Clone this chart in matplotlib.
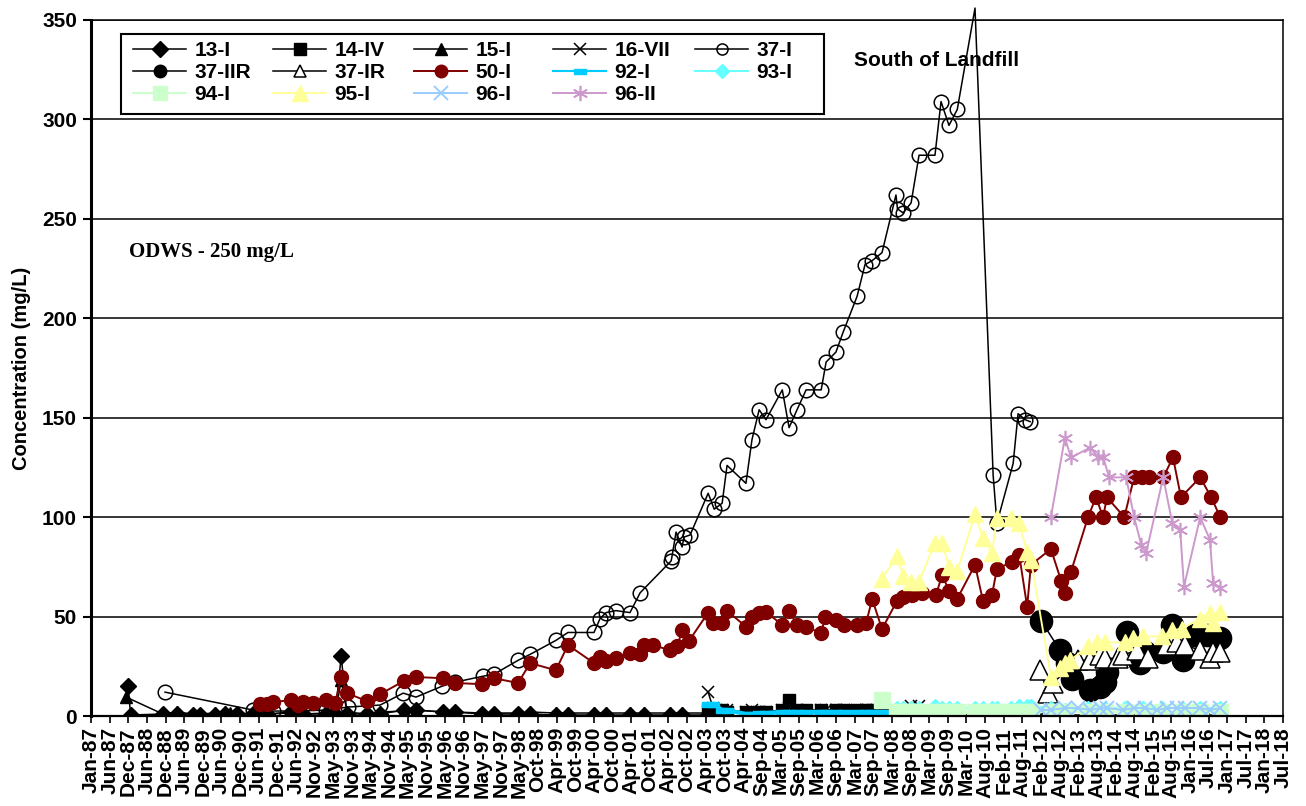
import matplotlib
matplotlib.use('Agg')
import matplotlib.pyplot as plt
from matplotlib.lines import Line2D
from matplotlib.patches import Rectangle
import pandas as pd

plt.rcParams['font.family'] = ['Liberation Sans', 'DejaVu Sans']
plt.rcParams['font.weight'] = 'bold'

# sample dates as decimal years, values in mg/L
t_13I = [1987.98, 1988.05, 1988.90, 1989.28, 1989.70, 1989.87, 1990.28, 1990.54, 1990.86, 1991.29,
         1991.66, 1992.29, 1992.61, 1993.22, 1993.46, 1993.62, 1993.77, 1994.30, 1994.65, 1995.28,
         1995.60, 1996.31, 1996.63, 1997.35, 1997.66, 1998.30, 1998.62, 1999.30, 1999.62, 2000.31,
         2000.63, 2001.26, 2001.63, 2002.32, 2002.64, 2003.33]
v_13I = [15, 0.5, 1, 1, 0.5, 0.5, 0.5, 1, 1, 1,
         1, 2, 1, 1, 1, 30, 1, 1, 1, 3,
         3, 2, 2, 1, 1, 1, 1, 0.5, 0.5, 0.5,
         0.5, 0.5, 0.5, 0.5, 0.5, 0.5]

t_14IV = [2003.33, 2003.46, 2003.70, 2003.83, 2004.33, 2004.49, 2004.68, 2004.86, 2005.29, 2005.47,
          2005.68, 2005.92, 2006.32, 2006.71, 2006.93, 2007.27, 2007.51, 2007.67, 2007.93]
v_14IV = [3, 3, 3, 2, 2, 1.5, 2, 2, 3, 8,
          3, 3, 3, 3, 3, 3, 3, 3, 3]

t_15I = [1987.93, 1988.90, 1989.28, 1989.70, 1989.87, 1990.28, 1990.54, 1990.67, 1990.86, 1991.29,
         1991.66, 1992.29, 1992.61, 1993.22, 1993.46, 1993.62, 1993.77, 1994.30, 1994.65, 1995.28,
         1995.60, 1996.31, 1996.63, 1997.35, 1997.66, 1998.30, 1998.62, 1999.30, 1999.62, 2000.31,
         2000.63, 2001.26, 2001.63, 2002.32, 2002.64, 2003.33]
v_15I = [9.5, 1, 2, 1, 1, 1.5, 2, 1.5, 1.5, 1,
         1, 1.5, 1, 1.5, 1, 18, 2, 1, 2, 2.5,
         3, 2, 2, 1.5, 1.5, 1.5, 2, 1.5, 1.5, 1.5,
         1.5, 1.5, 1.5, 1.5, 1.5, 1.5]

t_16VII = [2003.33, 2003.46, 2003.70, 2003.83, 2004.33, 2004.49, 2004.68, 2004.86, 2005.29, 2005.47,
           2005.68, 2005.92, 2006.32, 2006.45, 2006.71, 2006.93, 2007.27, 2007.51, 2007.67, 2007.93,
           2008.33, 2008.70, 2008.91, 2009.33, 2009.70, 2010.39, 2010.97, 2011.56, 2012.14, 2012.77,
           2013.44, 2013.89, 2014.41, 2014.89, 2015.37, 2015.90, 2016.53, 2016.88]
v_16VII = [12, 4, 3, 3, 2, 3, 2, 2, 3, 4,
           3, 2, 3, 3, 3, 3, 3, 3, 2, 3,
           1, 5, 5, 1, 1, 0.5, 0.5, 0.5, 0.5, 0.5,
           0.5, 0.5, 0.5, 0.5, 0.5, 0.5, 0.5, 0.5]

t_37I = [1988.96, 1991.29, 1991.82, 1992.48, 1993.22, 1993.80, 1994.65, 1995.26, 1995.60, 1996.29,
         1996.63, 1997.37, 1997.66, 1998.30, 1998.62, 1999.30, 1999.62, 2000.31, 2000.47, 2000.63,
         2000.89, 2001.26, 2001.53, 2002.35, 2002.37, 2002.48, 2002.64, 2002.69, 2002.85, 2003.33,
         2003.49, 2003.70, 2003.83, 2004.33, 2004.49, 2004.68, 2004.86, 2005.29, 2005.47, 2005.68,
         2005.92, 2006.32, 2006.45, 2006.71, 2006.90, 2007.27, 2007.48, 2007.67, 2007.93, 2008.30,
         2008.34, 2008.49, 2008.70, 2008.91, 2009.33, 2009.49, 2009.70, 2009.92, 2010.39, 2010.87,
         2010.97, 2011.40, 2011.53, 2011.72, 2011.85]
v_37I = [12, 3, 2.5, 2.5, 3, 4.5, 5.5, 11.5, 9.5, 15,
         17, 20, 21, 28, 31, 38, 42, 42, 49, 52,
         53, 52, 62, 78, 80, 92.5, 85, 90, 91, 112,
         104, 107, 126, 117, 139, 154, 149, 164, 145, 154,
         164, 164, 178, 183, 193, 211, 227, 229, 233, 262,
         255, 253, 258, 282, 282, 309, 297, 305, 356, 121,
         97, 127, 152, 149, 148]

t_37IIR = [2012.14, 2012.64, 2012.83, 2012.96, 2013.44, 2013.70, 2013.83, 2013.89, 2014.41, 2014.76,
           2014.89, 2015.37, 2015.61, 2015.90, 2016.21, 2016.53, 2016.88]
v_37IIR = [48, 33, 26.6, 18.6, 13, 14.6, 17, 22, 42, 26.6,
           32, 32, 45.8, 28, 40.7, 40.7, 39]

t_37IR = [2012.11, 2012.32, 2012.45, 2013.12, 2013.44, 2013.70, 2013.83, 2014.17, 2014.30, 2014.68,
          2014.97, 2015.48, 2015.74, 2015.95, 2016.35, 2016.61, 2016.69, 2016.88]
v_37IR = [23, 11.5, 16.6, 28, 28, 30.7, 29, 29, 30.7, 33,
          29, 35.7, 37, 35.7, 33, 29, 32, 32]

t_50I = [1991.47, 1991.66, 1991.82, 1992.29, 1992.48, 1992.61, 1992.87, 1993.22, 1993.46, 1993.62,
         1993.77, 1994.30, 1994.65, 1995.28, 1995.60, 1996.31, 1996.63, 1997.35, 1997.66, 1998.30,
         1998.62, 1999.30, 1999.62, 2000.31, 2000.47, 2000.63, 2000.89, 2001.26, 2001.53, 2001.63,
         2001.87, 2002.32, 2002.51, 2002.64, 2002.82, 2003.33, 2003.46, 2003.70, 2003.83, 2004.33,
         2004.49, 2004.68, 2004.86, 2005.29, 2005.47, 2005.68, 2005.92, 2006.32, 2006.42, 2006.71,
         2006.93, 2007.27, 2007.51, 2007.67, 2007.93, 2008.33, 2008.49, 2008.73, 2008.99, 2009.36,
         2009.52, 2009.70, 2009.92, 2010.39, 2010.60, 2010.84, 2010.97, 2011.37, 2011.56, 2011.77,
         2011.87, 2012.40, 2012.67, 2012.77, 2012.93, 2013.38, 2013.59, 2013.78, 2013.88, 2014.34,
         2014.60, 2014.81, 2015.00, 2015.37, 2015.63, 2015.84, 2016.35, 2016.64, 2016.88]
v_50I = [6, 6, 7, 8, 5.5, 7, 6.5, 8, 6.5, 19.6,
         11.5, 7.5, 11, 17.6, 19.6, 19, 16.6, 16, 19, 16.6,
         26.6, 23, 35.7, 26.6, 29.7, 27.7, 29, 31.7, 31, 35.7,
         35.7, 33, 35, 43, 37.7, 52, 46.8, 46.8, 52.8, 45,
         49.8, 51.8, 52.3, 45.8, 52.8, 45.8, 44.8, 41.7, 49.8, 48.3,
         45.8, 45.8, 46.8, 58.8, 43.7, 58, 60, 61, 62, 61,
         71, 63, 59, 76, 58, 61, 74, 77.5, 81, 55,
         76, 84, 68, 62, 72.5, 100, 110, 100, 110, 100,
         120, 120, 120, 120, 130, 110, 120, 110, 100]

t_92I = [2003.33, 2003.46, 2003.70, 2003.83, 2004.33, 2004.49, 2004.68, 2004.86, 2005.29, 2005.47,
         2005.68, 2005.92, 2006.32, 2006.45, 2006.71, 2006.93, 2007.27, 2007.51, 2007.67, 2007.93]
v_92I = [6, 6, 3, 3, 1, 1, 1.5, 1.5, 2, 2,
         2, 2, 2, 2, 2, 2, 2, 2, 2, 2]

t_93I = [2008.33, 2008.49, 2008.70, 2008.91, 2009.33, 2009.52, 2009.70, 2009.92, 2010.39, 2010.60,
         2010.84, 2010.97, 2011.35, 2011.56, 2011.77, 2011.87, 2012.40, 2012.77, 2013.38, 2013.83,
         2014.36, 2014.84, 2015.34, 2015.87, 2016.35, 2016.88]
v_93I = [4, 4, 4, 4, 5, 4, 4, 4, 4, 4,
         4, 4, 4, 5, 5, 5, 4, 3, 4, 4,
         4, 4, 4, 4, 4, 4]

t_94I = [2007.93, 2008.33, 2008.49, 2008.70, 2008.91, 2009.33, 2009.52, 2009.70, 2009.92, 2010.39,
         2010.60, 2010.84, 2010.97, 2011.35, 2011.56, 2011.77, 2011.87, 2012.40, 2012.77, 2013.38,
         2013.83, 2014.36, 2014.84, 2015.34, 2015.87, 2016.35, 2016.88]
v_94I = [8, 2, 2, 2, 2, 2, 2, 2, 2, 2,
         2, 2, 2, 2, 2, 2, 2, 2, 2, 2,
         2, 2, 2, 2, 2, 2, 2]

t_95I = [2007.93, 2008.33, 2008.49, 2008.70, 2008.91, 2009.33, 2009.52, 2009.70, 2009.92, 2010.39,
         2010.60, 2010.84, 2010.97, 2011.35, 2011.56, 2011.77, 2011.87, 2012.40, 2012.64, 2012.77,
         2012.91, 2013.38, 2013.62, 2013.83, 2014.36, 2014.57, 2014.84, 2015.34, 2015.61, 2015.87,
         2016.35, 2016.61, 2016.69, 2016.88]
v_95I = [69, 80.5, 70.5, 67.5, 67.5, 87, 87, 75, 73, 101.5,
         89.5, 82, 99.5, 99.5, 97, 82.5, 78.5, 19.6, 24, 26.6,
         28, 35, 37, 37, 37, 39, 40, 40, 43, 44,
         49, 52, 47, 52.5]

t_96I = [2012.14, 2012.40, 2012.77, 2013.12, 2013.44, 2013.70, 2013.89, 2014.30, 2014.60, 2014.89,
         2015.20, 2015.48, 2015.74, 2015.95, 2016.35, 2016.61, 2016.88]
v_96I = [3, 3, 4, 4, 3, 4, 4, 3, 4, 4,
         3, 4, 4, 4, 4, 3, 4]

t_96II = [2012.40, 2012.77, 2012.93, 2013.44, 2013.65, 2013.78, 2013.94, 2014.39, 2014.60, 2014.79,
          2014.92, 2015.37, 2015.61, 2015.82, 2015.92, 2016.35, 2016.61, 2016.69, 2016.88]
v_96II = [100, 140, 130, 135, 130, 130, 120, 120, 100, 86,
          82, 120, 97, 93.5, 65, 100, 88.5, 67, 64.5]

tick_start = '1987-01-01'
n_ticks = 65
tick_step_days = 180


def to_dates(years):
    return [pd.Timestamp(int(y), 1, 1) + pd.Timedelta(days=(y - int(y)) * 365.25) for y in years]


rect_marker = [(-1, -0.45), (1, -0.45), (1, 0.45), (-1, 0.45), (-1, -0.45)]

# name, times, values, plot style, legend marker size
series = [
    ('13-I', t_13I, v_13I, dict(color='black', lw=1.1, marker='D', ms=8.5), 8),
    ('14-IV', t_14IV, v_14IV, dict(color='black', lw=1.1, marker='s', ms=8), 9),
    ('15-I', t_15I, v_15I, dict(color='black', lw=1.1, marker='^', ms=9), 9),
    ('16-VII', t_16VII, v_16VII, dict(color='black', lw=1.1, marker='x', ms=9, mew=1.1), 9),
    ('37-I', t_37I, v_37I, dict(color='black', lw=1.1, marker='o', ms=10.5, mfc='none', mew=1.1), 8),
    ('37-IIR', t_37IIR, v_37IIR, dict(color='black', lw=1.1, marker='o', ms=16), 9),
    ('37-IR', t_37IR, v_37IR, dict(color='black', lw=1.1, marker='^', ms=14, mfc='white', mew=1.1), 9),
    ('50-I', t_50I, v_50I, dict(color='#800000', lw=1.4, marker='o', ms=10), 9),
    ('92-I', t_92I, v_92I, dict(color='#00CCFF', lw=3, marker=rect_marker, ms=8), 8),
    ('93-I', t_93I, v_93I, dict(color='#66FFFF', lw=1.4, marker='D', ms=7), 7),
    ('94-I', t_94I, v_94I, dict(color='#CCFFCC', lw=1.4, marker='s', ms=11), 10),
    ('95-I', t_95I, v_95I, dict(color='#FFFF99', lw=1.4, marker='^', ms=11), 11),
    ('96-I', t_96I, v_96I, dict(color='#99CCFF', lw=1.4, marker='x', ms=10, mew=1.4), 10),
    ('96-II', t_96II, v_96II, dict(color='#CC99CC', lw=1.4, marker=(6, 2, 0), ms=11, mew=1.2), 11),
]

W, H = 1306, 806
fig = plt.figure(figsize=(W / 100, H / 100), dpi=100)
ax = fig.add_axes([91 / W, 1 - 716 / H, (1283 - 91) / W, (716 - 20) / H])

handles = []
for name, t, v, style, leg_ms in series:
    d = to_dates(t)
    if name == '37-I':
        # the 2010 peak runs above the plot frame, its marker is hidden
        ax.plot(d, v, color='black', lw=style['lw'], clip_on=False, zorder=2)
        ax.plot(d, v, ls='none', **{k: s for k, s in style.items() if k != 'lw'}, zorder=2)
    else:
        ax.plot(d, v, **style, zorder=2)
    hs = dict(style)
    hs['ms'] = leg_ms
    if name == '92-I':
        hs['lw'] = 1.5
    handles.append(Line2D([0], [0], **hs))

ticks = pd.date_range(tick_start, periods=n_ticks, freq=f'{tick_step_days}D')
ax.set_xlim(ticks[0], ticks[-1])
ax.set_xticks(ticks)
ax.set_xticklabels([t.strftime('%b-%y') for t in ticks], rotation=90, fontsize=15, fontweight='bold')
ax.set_ylim(0, 350)
ax.set_yticks(range(0, 351, 50))
ax.set_yticklabels([str(y) for y in range(0, 351, 50)], fontsize=15, fontweight='bold')
ax.tick_params(axis='y', direction='out', length=6, width=1.5, pad=4)
ax.tick_params(axis='x', direction='out', length=5, width=1.2, pad=3)
ax.yaxis.grid(True, color='black', lw=1.1)
ax.set_axisbelow(True)
for side in ['top', 'right']:
    ax.spines[side].set_linewidth(1.1)
ax.spines['left'].set_linewidth(2.2)
ax.spines['bottom'].set_linewidth(1.6)

ax.set_ylabel('Concentration (mg/L)', fontsize=14.5, fontweight='bold', labelpad=8)

fig.text(854 / W, 1 - 61 / H, 'South of Landfill', fontsize=15, fontweight='bold', ha='left', va='center')
fig.text(129 / W, 1 - 252 / H, 'ODWS - 250 mg/L', fontsize=15, fontweight='bold',
         family=['Liberation Serif', 'DejaVu Serif'], ha='left', va='center')

# legend box laid out in rows like the original, one legend per column
fig.patches.append(Rectangle((121 / W, 1 - 114 / H), (824 - 121) / W, (114 - 34) / H,
                             transform=fig.transFigure, fc='white', ec='black', lw=1.5, zorder=3))
col_x = [133, 273, 414, 553, 695]
names = [s[0] for s in series]
for c, x0 in enumerate(col_x):
    idx = list(range(c, len(series), 5))
    fig.legend([handles[i] for i in idx], [names[i] for i in idx], loc='upper left',
               bbox_to_anchor=(x0 / W, 1 - 41 / H), frameon=False, borderpad=0, borderaxespad=0,
               handlelength=2.55, handletextpad=0.4, labelspacing=0.15,
               prop=dict(size=15, weight='bold'))

fig.savefig('out.png', dpi=100)
